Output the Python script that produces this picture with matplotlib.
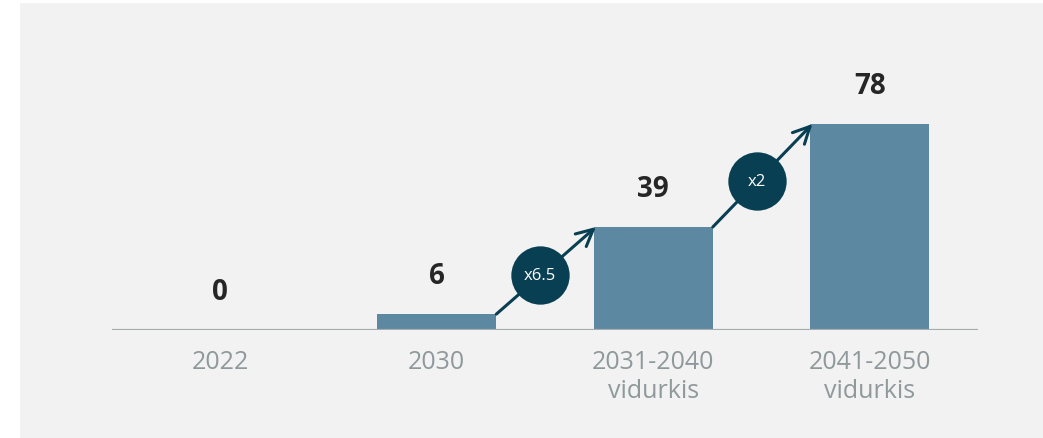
import matplotlib
matplotlib.use("Agg")
import matplotlib.pyplot as plt
from matplotlib.patches import Rectangle
import numpy as np

# ---- data ----
categories = ["2022", "2030", "2031-2040\nvidurkis", "2041-2050\nvidurkis"]
values = [0, 6, 39, 78]
growth_labels = ["x6.5", "x2"]          # between bar 1->2 and 2->3
growth_pairs = [(1, 2), (2, 3)]

# ---- style ----
BG = "#f2f2f2"
BAR = "#5c88a1"
DARK = "#083f52"
TICK = "#8f999c"
VAL = "#262626"
FONT = ["Open Sans", "DejaVu Sans"]
plt.rcParams["font.family"] = FONT

fig = plt.figure(figsize=(10.43, 4.39), dpi=100, facecolor="white")
W, H = 1043, 439
fig.patches.append(Rectangle((20 / W, 0), 1 - 20 / W, 1 - 4 / H,
                             transform=fig.transFigure, facecolor=BG,
                             edgecolor="none", zorder=-10))

ax_bottom = (H - 331) / H
ax_top_px = 60
ax_height = (331 - ax_top_px) / H
ax = fig.add_axes([112 / W, ax_bottom, (978 - 112) / W, ax_height])
ax.set_facecolor("none")

x = np.arange(len(categories))
bw = 0.55
ax.bar(x, values, width=bw, color=BAR, zorder=2)

ax.set_xlim(-0.5, len(categories) - 0.5)
ymax = max(values) * (331 - ax_top_px) / 206
ax.set_ylim(0, ymax)

ax.axhline(0, color="#a4acae", lw=1.6, zorder=3)
for s in ax.spines.values():
    s.set_visible(False)
ax.set_yticks([])
ax.set_xticks(x)
ax.set_xticklabels(categories, fontsize=18, color=TICK, linespacing=1.2)
ax.tick_params(axis="x", length=0, pad=14)

for xi, v in zip(x, values):
    ax.annotate(str(v), (xi, v), xytext=(0, 28), textcoords="offset points",
                ha="center", va="center", fontsize=20, fontweight="bold",
                color=VAL)

for (i, j), lab in zip(growth_pairs, growth_labels):
    x0, y0 = x[i] + bw / 2, values[i]
    x1, y1 = x[j] - bw / 2, values[j]
    ax.annotate("", xy=(x1 + 0.01, y1), xytext=(x0, y0),
                arrowprops=dict(arrowstyle="->", color=DARK, lw=2.2,
                                mutation_scale=30, shrinkA=0, shrinkB=0),
                zorder=4)
    t = 0.45
    cx, cy = x0 + t * (x1 - x0), y0 + t * (y1 - y0)
    ax.plot([cx], [cy], marker="o", markersize=42, color=DARK,
            markeredgewidth=0, zorder=5, clip_on=False)
    ax.text(cx, cy, lab, ha="center", va="center", color="white",
            fontsize=12, zorder=6)

fig.savefig("out.png", dpi=100, facecolor="white")
